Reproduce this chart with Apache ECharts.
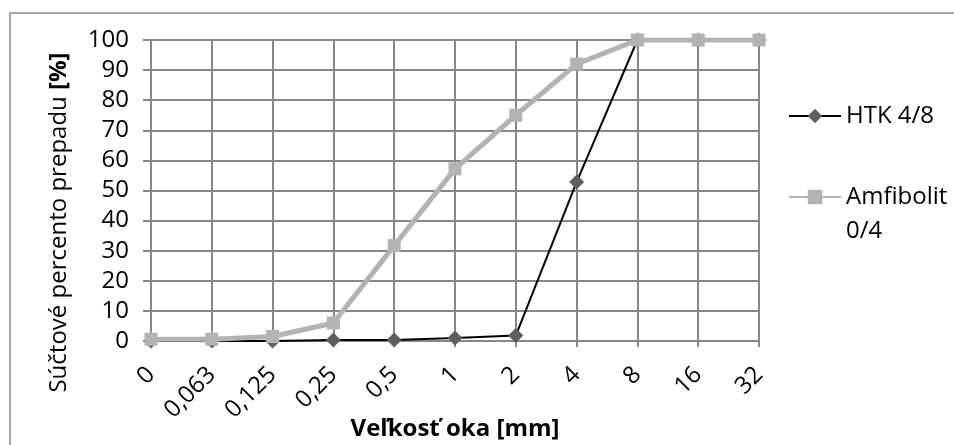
<!DOCTYPE html>
<html>
<head>
<meta charset="utf-8">
<script src="https://cdn.jsdelivr.net/npm/echarts@6/dist/echarts.min.js"></script>
<style>
html,body{margin:0;padding:0;background:#fff;}
#c{width:954px;height:445px;}
</style>
</head>
<body>
<div id="c"></div>
<script>
const categories = ['0', '0,063', '0,125', '0,25', '0,5', '1', '2', '4', '8', '16', '32'];
const htk = [0, 0, 0, 0.3, 0.3, 1.0, 1.8, 52.8, 100, 100, 100];
const amfibolit = [0.6, 0.6, 1.5, 6.0, 31.7, 57.2, 75.0, 92.0, 100, 100, 100];
const seriesNames = ['HTK 4/8', 'Amfibolit 0/4'];
const yTicks = { min: 0, max: 100, interval: 10 };

const FONT = '"Open Sans", "Noto Sans", sans-serif';
const FS = 24;
const chart = echarts.init(document.getElementById('c'), null, { renderer: 'canvas' });
chart.setOption({
  backgroundColor: '#ffffff',
  animation: false,
  textStyle: { fontFamily: FONT },
  graphic: [{
    type: 'rect',
    shape: { x: 10, y: 13, width: 980, height: 480 },
    style: { fill: 'none', stroke: '#a6a6a6', lineWidth: 2 },
    silent: true
  }],
  grid: { left: 151, right: 195, top: 40, bottom: 104, containLabel: false, outerBoundsMode: 'none' },
  legend: [{
    data: [seriesNames[0]],
    orient: 'vertical',
    left: 788, top: 104, padding: 0,
    itemWidth: 52, itemHeight: 18,
    textStyle: { fontFamily: FONT, fontSize: FS, color: '#000' }
  }, {
    data: [seriesNames[1]],
    orient: 'vertical',
    left: 788, top: 146, padding: 0,
    itemWidth: 52, itemHeight: 18,
    formatter: n => '{e|\u00a0}\n' + n.replace(' ', '\n'),
    textStyle: {
      fontFamily: FONT, fontSize: FS, color: '#000', lineHeight: 34,
      rich: { e: { fontSize: FS, lineHeight: 34 } }
    }
  }],
  xAxis: {
    type: 'category',
    data: categories,
    boundaryGap: false,
    name: 'Veľkosť oka [mm]',
    nameLocation: 'middle',
    nameGap: 76,
    nameMoveOverlap: false,
    nameTextStyle: { fontFamily: FONT, fontSize: FS, fontWeight: 'bold', color: '#000' },
    axisLine: { lineStyle: { color: '#878787', width: 2 } },
    axisTick: { show: true, alignWithLabel: true, length: 6, lineStyle: { color: '#878787', width: 2 } },
    axisLabel: { rotate: 45, fontFamily: FONT, fontSize: FS, color: '#000', margin: 30, interval: 0 },
    splitLine: { show: true, lineStyle: { color: '#878787', width: 2 } }
  },
  yAxis: {
    type: 'value',
    min: yTicks.min, max: yTicks.max, interval: yTicks.interval,
    name: '{n|Súčtové percento prepadu }{b|[%]}',
    nameLocation: 'middle',
    nameGap: 80,
    nameRotate: 90,
    nameMoveOverlap: false,
    nameTextStyle: {
      fontFamily: FONT, fontSize: FS, color: '#000',
      padding: [0, 64, 0, 0],
      rich: {
        n: { fontFamily: FONT, fontSize: FS, color: '#000' },
        b: { fontFamily: FONT, fontSize: FS, color: '#000', fontWeight: 'bold' }
      }
    },
    axisLine: { show: true, lineStyle: { color: '#878787', width: 2 } },
    axisTick: { show: true, length: 8, lineStyle: { color: '#878787', width: 2 } },
    axisLabel: { fontFamily: FONT, fontSize: FS, color: '#000', margin: 22 },
    splitLine: { show: true, lineStyle: { color: '#878787', width: 2 } }
  },
  series: [{
    name: seriesNames[0],
    type: 'line',
    data: htk,
    z: 3,
    symbol: 'diamond',
    symbolSize: 15,
    showAllSymbol: true,
    lineStyle: { color: '#000', width: 2 },
    itemStyle: { color: '#5f5f5f', borderWidth: 0 }
  }, {
    name: seriesNames[1],
    type: 'line',
    data: amfibolit,
    z: 4,
    symbol: 'rect',
    symbolSize: 13,
    showAllSymbol: true,
    lineStyle: { color: '#b3b3b3', width: 5 },
    itemStyle: { color: '#b3b3b3', borderWidth: 0 }
  }]
});
</script>
</body>
</html>
